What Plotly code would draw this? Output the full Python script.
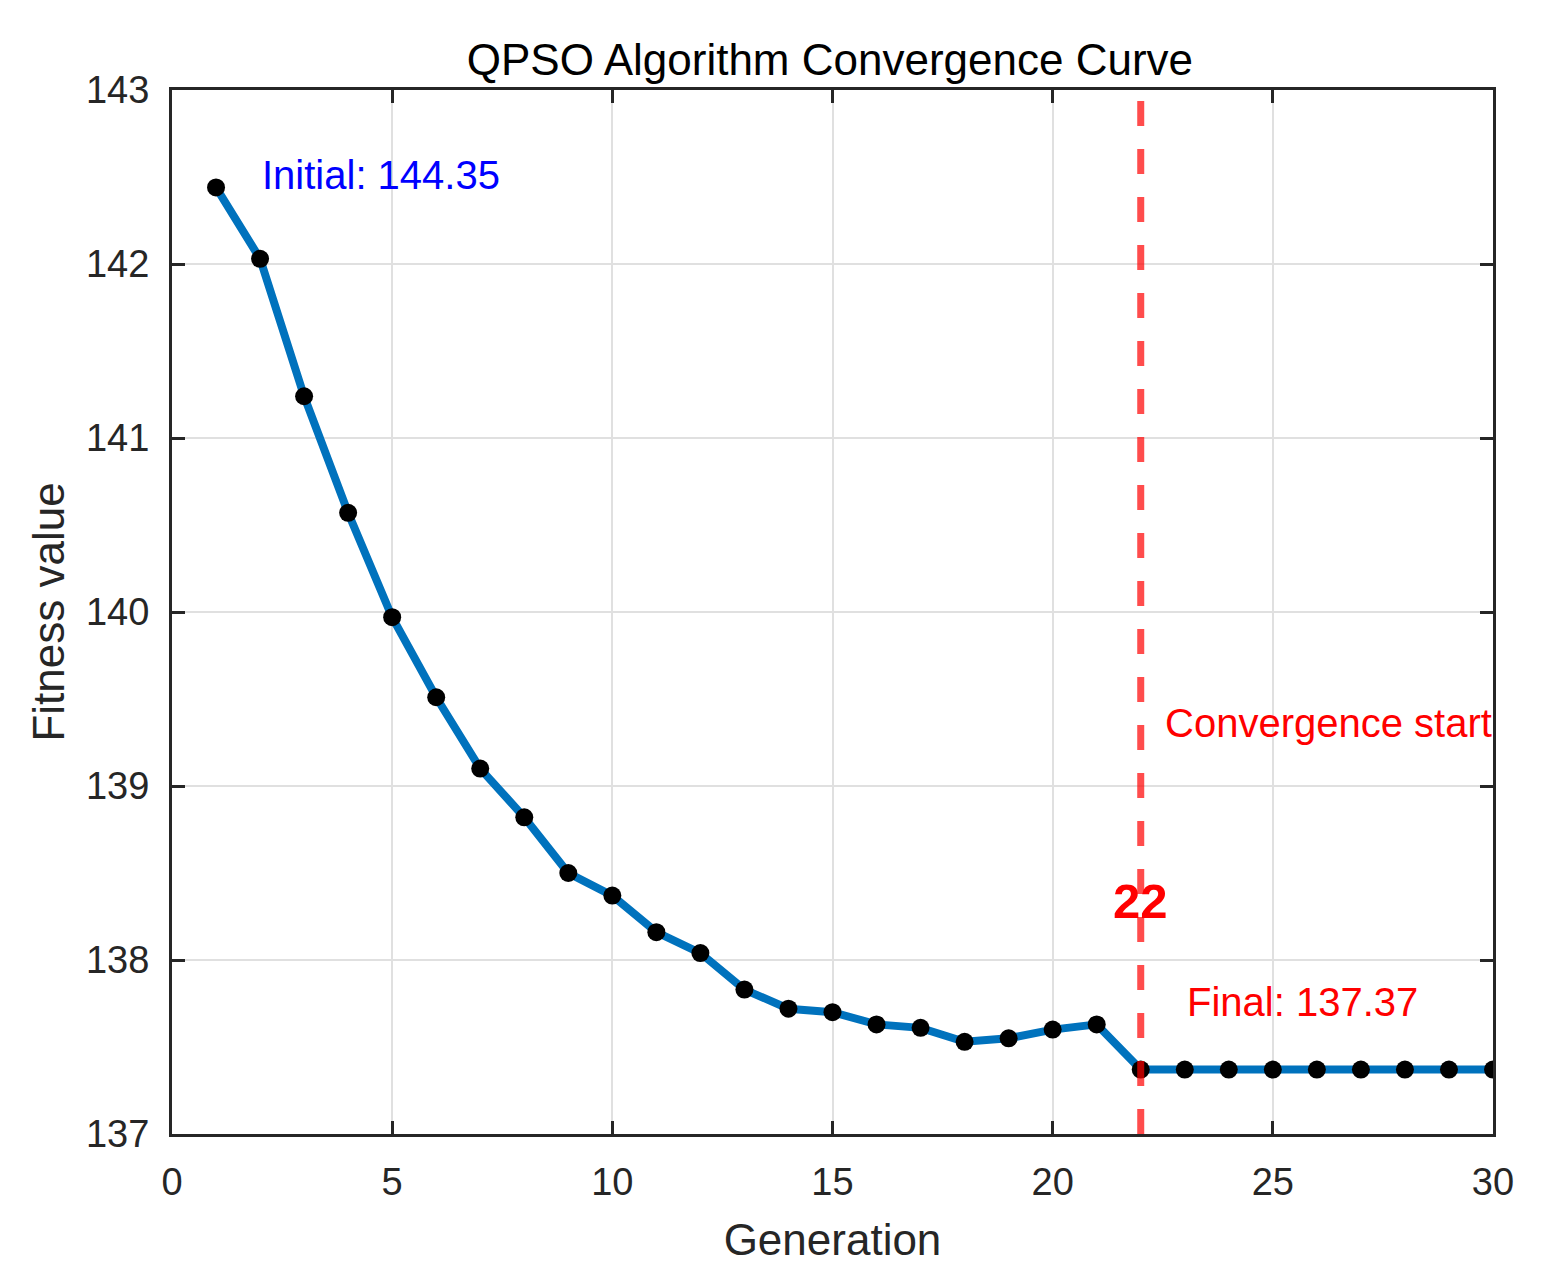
import plotly.graph_objects as go

# fitness per generation
generations = list(range(1, 31))
fitness = [142.44, 142.03, 141.24, 140.57, 139.97, 139.51, 139.10, 138.82, 138.50, 138.37,
           138.16, 138.04, 137.83, 137.72, 137.70, 137.63, 137.61, 137.53, 137.55, 137.60,
           137.63, 137.37, 137.37, 137.37, 137.37, 137.37, 137.37, 137.37, 137.37, 137.37]

conv_gen = 22
x_ticks = [0, 5, 10, 15, 20, 25, 30]
y_ticks = [137, 138, 139, 140, 141, 142, 143]

FONT = "Liberation Sans, Arial, sans-serif"
AX = "#262626"

fig = go.Figure()

fig.add_trace(go.Scatter(
    x=generations, y=fitness, mode="lines+markers",
    line=dict(color="#0072BD", width=8),
    marker=dict(color="black", size=18),
    showlegend=False,
))

fig.add_shape(type="line", x0=conv_gen, x1=conv_gen, y0=0, y1=1,
              xref="x", yref="paper",
              line=dict(color="rgba(255,0,0,0.7)", width=7, dash="25px,23px"))

fig.add_annotation(x=2, y=142.51, text="Initial: 144.35", showarrow=False,
                   xanchor="left", yanchor="middle",
                   font=dict(family=FONT, size=40, color="#0000FF"))
fig.add_annotation(x=22.5, y=139.36, text="Convergence start", showarrow=False,
                   xanchor="left", yanchor="middle",
                   font=dict(family=FONT, size=40, color="#FF0000"))
fig.add_annotation(x=conv_gen, y=138.34, text="<b>22</b>", showarrow=False,
                   xanchor="center", yanchor="middle",
                   font=dict(family=FONT, size=49, color="#FF0000"))
fig.add_annotation(x=23, y=137.76, text="Final: 137.37", showarrow=False,
                   xanchor="left", yanchor="middle",
                   font=dict(family=FONT, size=40, color="#FF0000"))

axis_common = dict(
    showgrid=True, gridcolor="#e0e0e0", gridwidth=2,
    showline=True, linecolor=AX, linewidth=3, mirror="ticks",
    ticks="inside", ticklen=13, tickwidth=3, tickcolor=AX,
    zeroline=False,
    tickfont=dict(family=FONT, size=38, color=AX),
)

fig.update_xaxes(range=[0, 30], tickvals=x_ticks, ticklabelstandoff=12,
                 title=dict(text="Generation", font=dict(family=FONT, size=44, color=AX), standoff=23),
                 **axis_common)
fig.update_yaxes(range=[137, 143], tickvals=y_ticks, ticklabelstandoff=12,
                 title=dict(text="Fitness value", font=dict(family=FONT, size=44, color=AX), standoff=8),
                 **axis_common)

fig.update_layout(
    width=1542, height=1284,
    margin=dict(l=164, r=57, t=82, b=158),
    paper_bgcolor="white", plot_bgcolor="white",
    title=dict(text="QPSO Algorithm Convergence Curve", x=0.533, xanchor="center",
               y=0.9595, yanchor="middle",
               font=dict(family=FONT, size=44, color="black")),
)

fig.write_html("out.html")
